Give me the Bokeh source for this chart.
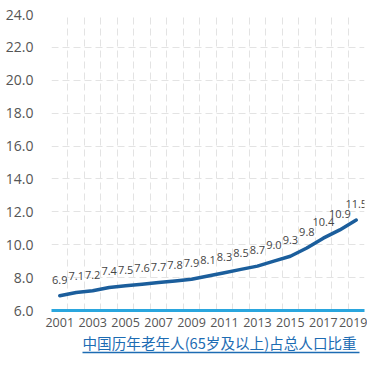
from bokeh.plotting import figure
from bokeh.models import (ColumnDataSource, FixedTicker, Range1d, PrintfTickFormatter,
                          LabelSet, Title, LinearAxis)
from bokeh.embed import file_html
from bokeh.resources import INLINE
from bokeh.core.properties import value

years = [2001, 2002, 2003, 2004, 2005, 2006, 2007, 2008, 2009, 2010,
         2011, 2012, 2013, 2014, 2015, 2016, 2017, 2018, 2019]
ratio = [6.9, 7.1, 7.2, 7.4, 7.5, 7.6, 7.7, 7.8, 7.9, 8.1,
         8.3, 8.5, 8.7, 9.0, 9.3, 9.8, 10.4, 10.9, 11.5]
y_ticks = [6, 8, 10, 12, 14, 16, 18, 20, 22, 24]
title_text = "中国历年老年人(65岁及以上)占总人口比重"

FONT = "Open Sans"
xpos = [i + 0.5 for i in range(len(years))]
labels = ["%.1f" % v for v in ratio]
src = ColumnDataSource(dict(x=xpos, y=ratio, lab=labels))

p = figure(width=367, height=360, output_backend="svg", toolbar_location=None,
           x_range=Range1d(0, len(years)), y_range=Range1d(6, 24),
           min_border_left=51, min_border_right=3, min_border_top=14, min_border_bottom=50)
p.outline_line_color = None
p.background_fill_color = "white"
p.border_fill_color = "white"

# grid
p.xgrid.ticker = FixedTicker(ticks=list(range(len(years) + 1)))
p.ygrid.ticker = FixedTicker(ticks=y_ticks)
for g in (p.xgrid, p.ygrid):
    g.grid_line_color = "#e3e3e3"
    g.grid_line_dash = "7 4"
    g.grid_line_width = 1

# x axis
p.xaxis.ticker = FixedTicker(ticks=xpos[::2])
p.xaxis.major_label_overrides = {xpos[i]: str(years[i]) for i in range(0, len(years), 2)}
p.xaxis.axis_line_color = "#2aa6de"
p.xaxis.axis_line_width = 3
p.xaxis.major_tick_line_color = None
p.xaxis.minor_tick_line_color = None
p.xaxis.major_tick_in = 0
p.xaxis.major_tick_out = 0
p.xaxis.major_label_text_font = FONT
p.xaxis.major_label_text_font_size = "12.5px"
p.xaxis.major_label_text_color = "#555555"
p.xaxis.major_label_standoff = 7

# y axis
p.yaxis.ticker = FixedTicker(ticks=y_ticks)
p.yaxis.formatter = PrintfTickFormatter(format="%.1f")
p.yaxis.axis_line_color = None
p.yaxis.major_tick_line_color = None
p.yaxis.minor_tick_line_color = None
p.yaxis.major_label_text_font = FONT
p.yaxis.major_label_text_font_size = "14px"
p.yaxis.major_label_text_color = "#555555"
p.yaxis.major_label_standoff = 12

p.line("x", "y", source=src, line_color="#1b5e9c", line_width=3.5, line_join="round", line_cap="round")
p.add_layout(LabelSet(x="x", y="y", text="lab", source=src, text_align="center",
                      text_baseline="middle", y_offset=16, text_font=value(FONT),
                      text_font_size="11px", text_color="#444444"))

# bottom caption with underline
p.add_layout(Title(text=title_text, align="left", offset=31, standoff=0,
                   text_font="Noto Sans CJK SC", text_font_size="14.6px",
                   text_font_style="normal", text_color="#1d6cb3"), "below")
p.extra_x_ranges = {"u": Range1d(0, len(years))}
uline = LinearAxis(x_range_name="u", bounds=(1.9, 18.7), ticker=FixedTicker(ticks=[]),
                   axis_line_color="#1d6cb3", axis_line_width=1.5,
                   major_tick_line_color=None, minor_tick_line_color=None,
                   major_label_text_font_size="0px", major_label_standoff=0,
                   major_tick_in=0, major_tick_out=0, minor_tick_in=0, minor_tick_out=0)
p.add_layout(uline, "below")

open("out.html", "w").write(file_html(p, INLINE))
